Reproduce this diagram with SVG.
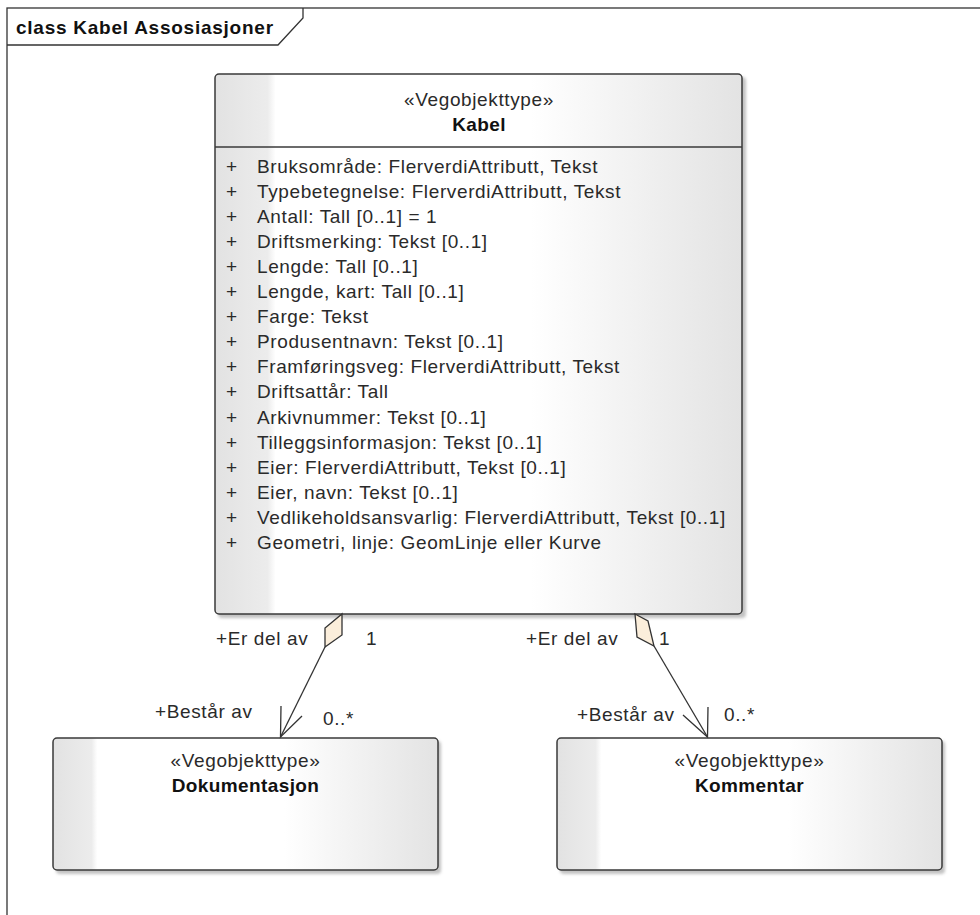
<svg xmlns="http://www.w3.org/2000/svg" width="980" height="915" viewBox="0 0 980 915">
<defs>
<linearGradient id="fill" x1="0" y1="0" x2="1" y2="0">
<stop offset="0" stop-color="#e2e2e2"/>
<stop offset="0.1" stop-color="#ececec"/>
<stop offset="0.115" stop-color="#ffffff"/>
<stop offset="0.6" stop-color="#ffffff"/>
<stop offset="1" stop-color="#e3e3e3"/>
</linearGradient>
<filter id="sh" x="-5%" y="-5%" width="115%" height="115%">
<feGaussianBlur stdDeviation="1.5"/>
</filter>
</defs>
<style>
text{font-family:"Liberation Sans",Arial,sans-serif;font-size:19px;letter-spacing:0.62px;fill:#2a2a2a}
.b{font-weight:bold;fill:#111;letter-spacing:0.4px}
.t{letter-spacing:0.75px}
.c{text-anchor:middle}
.box{fill:url(#fill);stroke:#3a3a3a;stroke-width:1.5}
.shadow{fill:#9a9a9a;opacity:0.6;filter:url(#sh)}
.ln{stroke:#333;stroke-width:1.3;fill:none}
.dia{fill:#fbeedb;stroke:#333;stroke-width:1.3}
</style>
<rect x="0" y="0" width="980" height="915" fill="#ffffff"/>
<g id="frame">
<rect x="7" y="8" width="990" height="930" fill="none" stroke="#333" stroke-width="1.3"/>
<path d="M7,45 H278 L303,18 V8" fill="none" stroke="#333" stroke-width="1.3"/>
<text class="b t" x="16" y="33.5">class Kabel Assosiasjoner</text>
</g>
<g id="Kabel">
<rect class="shadow" x="218" y="77" width="528" height="541" rx="4"/>
<rect class="box" x="215" y="74" width="527" height="540" rx="4"/>
<line x1="215" y1="147" x2="742" y2="147" stroke="#3a3a3a" stroke-width="1.5"/>
<text class="c" x="479" y="106">«Vegobjekttype»</text>
<text class="b c" x="479" y="131">Kabel</text>
<g>
<text x="226" y="172.5">+</text><text x="257" y="172.5">Bruksområde: FlerverdiAttributt, Tekst</text>
<text x="226" y="197.6">+</text><text x="257" y="197.6">Typebetegnelse: FlerverdiAttributt, Tekst</text>
<text x="226" y="222.7">+</text><text x="257" y="222.7">Antall: Tall [0..1] = 1</text>
<text x="226" y="247.8">+</text><text x="257" y="247.8">Driftsmerking: Tekst [0..1]</text>
<text x="226" y="272.9">+</text><text x="257" y="272.9">Lengde: Tall [0..1]</text>
<text x="226" y="298">+</text><text x="257" y="298">Lengde, kart: Tall [0..1]</text>
<text x="226" y="323.1">+</text><text x="257" y="323.1">Farge: Tekst</text>
<text x="226" y="348.2">+</text><text x="257" y="348.2">Produsentnavn: Tekst [0..1]</text>
<text x="226" y="373.3">+</text><text x="257" y="373.3">Framføringsveg: FlerverdiAttributt, Tekst</text>
<text x="226" y="398.4">+</text><text x="257" y="398.4">Driftsattår: Tall</text>
<text x="226" y="423.5">+</text><text x="257" y="423.5">Arkivnummer: Tekst [0..1]</text>
<text x="226" y="448.6">+</text><text x="257" y="448.6">Tilleggsinformasjon: Tekst [0..1]</text>
<text x="226" y="473.7">+</text><text x="257" y="473.7">Eier: FlerverdiAttributt, Tekst [0..1]</text>
<text x="226" y="498.8">+</text><text x="257" y="498.8">Eier, navn: Tekst [0..1]</text>
<text x="226" y="523.9">+</text><text x="257" y="523.9">Vedlikeholdsansvarlig: FlerverdiAttributt, Tekst [0..1]</text>
<text x="226" y="549">+</text><text x="257" y="549">Geometri, linje: GeomLinje eller Kurve</text>
</g>
</g>
<g id="Dokumentasjon">
<rect class="shadow" x="56" y="741" width="385" height="133" rx="4"/>
<rect class="box" x="53" y="738" width="385" height="132" rx="4"/>
<text class="c" x="245.5" y="767">«Vegobjekttype»</text>
<text class="b c" x="245.5" y="792">Dokumentasjon</text>
</g>
<g id="Kommentar">
<rect class="shadow" x="560" y="741" width="385" height="133" rx="4"/>
<rect class="box" x="557" y="738" width="385" height="132" rx="4"/>
<text class="c" x="749.5" y="767">«Vegobjekttype»</text>
<text class="b c" x="749.5" y="792">Kommentar</text>
</g>
<g id="connectors">
<g id="c1">
<line class="ln" x1="325" y1="647" x2="280.5" y2="737"/>
<polygon class="dia" points="342,614 342,635 325,647 325,628"/>
<polyline class="ln" points="281,706 280.5,737 302,716"/>
<text x="216" y="645">+Er del av</text>
<text x="366" y="645">1</text>
<text x="155" y="718">+Består av</text>
<text x="323" y="725">0..*</text>
</g>
<g id="c2">
<line class="ln" x1="654" y1="646" x2="707.5" y2="737"/>
<polygon class="dia" points="635,614 648,621 654,646 637,637"/>
<polyline class="ln" points="683,715 707.5,737 708,707"/>
<text x="526" y="645">+Er del av</text>
<text x="659" y="645">1</text>
<text x="577" y="721">+Består av</text>
<text x="724" y="721">0..*</text>
</g>
</g>
</svg>
